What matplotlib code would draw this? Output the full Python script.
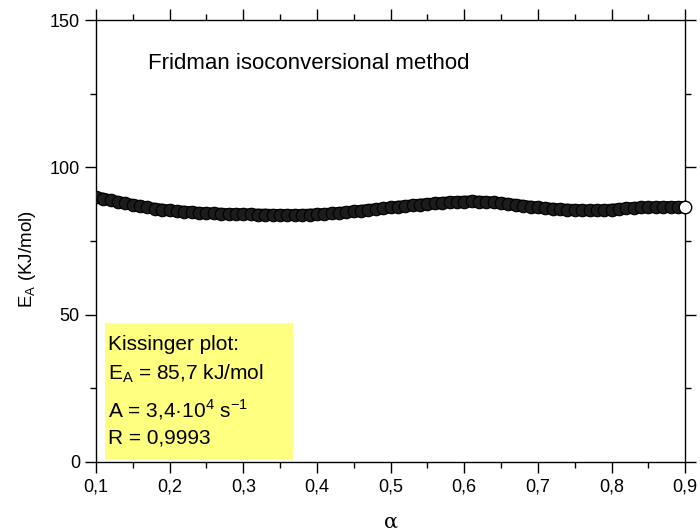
import matplotlib
matplotlib.use('Agg')
import matplotlib.pyplot as plt
from matplotlib.ticker import MultipleLocator, FormatStrFormatter, FuncFormatter
from matplotlib.patches import Rectangle

plt.rcParams['font.family'] = ['Liberation Sans', 'DejaVu Sans']

# conversion degree and activation energy (Fridman)
alpha = [0.10, 0.11, 0.12, 0.13, 0.14, 0.15, 0.16, 0.17, 0.18, 0.19,
         0.20, 0.21, 0.22, 0.23, 0.24, 0.25, 0.26, 0.27, 0.28, 0.29,
         0.30, 0.31, 0.32, 0.33, 0.34, 0.35, 0.36, 0.37, 0.38, 0.39,
         0.40, 0.41, 0.42, 0.43, 0.44, 0.45, 0.46, 0.47, 0.48, 0.49,
         0.50, 0.51, 0.52, 0.53, 0.54, 0.55, 0.56, 0.57, 0.58, 0.59,
         0.60, 0.61, 0.62, 0.63, 0.64, 0.65, 0.66, 0.67, 0.68, 0.69,
         0.70, 0.71, 0.72, 0.73, 0.74, 0.75, 0.76, 0.77, 0.78, 0.79,
         0.80, 0.81, 0.82, 0.83, 0.84, 0.85, 0.86, 0.87, 0.88, 0.89,
         0.90]
ea = [90.0, 89.4, 88.9, 88.3, 87.8, 87.3, 86.9, 86.4, 86.0, 85.7,
      85.4, 85.2, 85.0, 84.8, 84.6, 84.5, 84.4, 84.3, 84.2, 84.2,
      84.1, 84.1, 84.0, 84.0, 83.9, 83.9, 83.9, 83.9, 83.9, 84.0,
      84.1, 84.2, 84.4, 84.6, 84.8, 85.1, 85.3, 85.6, 85.8, 86.1,
      86.4, 86.7, 86.9, 87.2, 87.4, 87.6, 87.8, 88.0, 88.2, 88.3,
      88.4, 88.5, 88.4, 88.3, 88.1, 87.9, 87.6, 87.3, 87.0, 86.7,
      86.4, 86.2, 86.0, 85.8, 85.7, 85.6, 85.5, 85.4, 85.4, 85.5,
      85.7, 85.9, 86.1, 86.3, 86.4, 86.5, 86.5, 86.6, 86.6, 86.6,
      86.6]

fig = plt.figure(figsize=(7.0, 5.31), dpi=100)
ax = fig.add_axes([0.137, 0.13, 0.842, 0.832])

# densely overlapping open circles look like a solid band
ax.plot(alpha, ea, color='#1c1c1c', linewidth=8.5, solid_capstyle='round',
        marker='o', markersize=9, markerfacecolor='#1c1c1c',
        markeredgecolor='black', markeredgewidth=0.8, zorder=3)
# last point stays open
ax.plot(alpha[-1:], ea[-1:], linestyle='none', marker='o', markersize=9,
        markerfacecolor='white', markeredgecolor='black', markeredgewidth=1.0,
        clip_on=False, zorder=4)

ax.set_xlim(0.1, 0.9)
ax.set_ylim(0, 150)
ax.xaxis.set_major_locator(MultipleLocator(0.1))
ax.xaxis.set_minor_locator(MultipleLocator(0.05))
ax.yaxis.set_major_locator(MultipleLocator(50))
ax.yaxis.set_minor_locator(MultipleLocator(25))
ax.xaxis.set_major_formatter(FuncFormatter(lambda v, p: f'{v:.1f}'.replace('.', ',')))
ax.yaxis.set_major_formatter(FormatStrFormatter('%d'))

ax.tick_params(which='both', direction='out', top=True, right=True,
               labelsize=13, width=1.0)
ax.tick_params(which='major', length=8)
ax.tick_params(which='minor', length=4)
ax.tick_params(axis='x', pad=4)
for s in ax.spines.values():
    s.set_linewidth(1.0)

ax.set_ylabel(r'E$_\mathregular{A}$ (KJ/mol)', fontsize=13.5)
ax.yaxis.set_label_coords(-0.098, 0.46)
ax.set_xlabel('α', fontsize=15, family='DejaVu Serif')
ax.xaxis.set_label_coords(0.5, -0.115)

ax.text(0.088, 0.903, 'Fridman isoconversional method', transform=ax.transAxes,
        fontsize=16, ha='left', va='center')

# Kissinger result box
ax.add_patch(Rectangle((0.015, 0.005), 0.32, 0.31, transform=ax.transAxes,
                       facecolor='#ffff80', edgecolor='none', zorder=1))
ax.text(0.02, 0.265, 'Kissinger plot:', transform=ax.transAxes,
        fontsize=15, va='center', zorder=2)
ax.text(0.02, 0.199, r'E$_\mathregular{A}$ = 85,7 kJ/mol', transform=ax.transAxes,
        fontsize=15, va='center', zorder=2)
ax.text(0.02, 0.118, r'A = 3,4·10$^\mathregular{4}$ s$^\mathregular{-1}$',
        transform=ax.transAxes, fontsize=15, va='center', zorder=2)
ax.text(0.02, 0.054, 'R = 0,9993', transform=ax.transAxes,
        fontsize=15, va='center', zorder=2)

fig.savefig('out.png', dpi=100)
